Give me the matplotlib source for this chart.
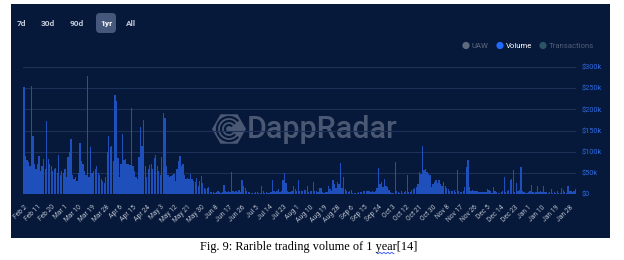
import numpy as np
import pandas as pd
import matplotlib
matplotlib.use("Agg")
import matplotlib.pyplot as plt
from matplotlib.patches import Rectangle, FancyBboxPatch, RegularPolygon, Arc, Circle

# daily Rarible trading volume, thousands of USD
start_date = "2021-02-02"
volume_k = [
    252, 90, 80, 75, 65, 255, 137, 70, 60, 72,
    90, 55, 65, 83, 60, 172, 83, 70, 65, 55,
    60, 62, 50, 92, 45, 55, 50, 60, 40, 88,
    100, 130, 45, 35, 40, 30, 50, 121, 77, 70,
    55, 45, 279, 40, 111, 50, 55, 60, 65, 50,
    45, 35, 30, 25, 40, 99, 138, 112, 113, 77,
    233, 219, 85, 40, 70, 141, 80, 82, 70, 72,
    68, 203, 65, 55, 40, 35, 88, 158, 113, 175,
    65, 40, 60, 68, 72, 60, 85, 92, 65, 55,
    45, 88, 191, 179, 65, 45, 40, 42, 45, 48,
    30, 60, 78, 89, 65, 72, 45, 35, 38, 35,
    47, 35, 30, 28, 38, 20, 30, 42, 25, 15,
    12, 15, 17, 5, 4, 4, 3, 4, 8, 4,
    3, 4, 22, 8, 4, 7, 4, 52, 6, 5,
    8, 5, 9, 5, 32, 20, 14, 8, 5, 4,
    3, 2, 2, 4, 4, 3, 3, 20, 8, 3,
    4, 3, 3, 5, 32, 8, 4, 6, 12, 5,
    8, 32, 50, 25, 8, 4, 4, 6, 20, 12,
    8, 33, 8, 8, 8, 10, 10, 18, 5, 8,
    6, 28, 8, 6, 5, 13, 13, 4, 3, 4,
    5, 18, 12, 8, 32, 24, 15, 28, 24, 74,
    14, 41, 12, 6, 5, 6, 9, 3, 3, 2,
    3, 4, 5, 4, 6, 8, 6, 8, 6, 4,
    6, 4, 8, 14, 62, 24, 28, 16, 36, 20,
    17, 10, 4, 3, 3, 75, 8, 4, 3, 6,
    3, 4, 6, 44, 4, 5, 10, 12, 14, 16,
    24, 52, 48, 113, 56, 58, 52, 48, 44, 16,
    24, 28, 32, 25, 33, 24, 20, 28, 20, 14,
    12, 8, 6, 8, 10, 4, 56, 8, 4, 5,
    6, 16, 63, 81, 16, 6, 10, 8, 6, 6,
    5, 4, 4, 4, 4, 4, 12, 10, 6, 3,
    16, 8, 4, 2, 3, 4, 6, 40, 4, 8,
    10, 33, 36, 56, 4, 25, 6, 10, 63, 8,
    4, 2, 3, 4, 6, 22, 4, 2, 5, 20,
    4, 6, 5, 20, 4, 4, 3, 5, 12, 2,
    4, 3, 6, 3, 2, 14, 10, 4, 2, 18,
    8, 6, 4, 6, 12,
]
y_ticks_k = [0, 50, 100, 150, 200, 250, 300]
ranges = ["7d", "30d", "90d", "1yr", "All"]
legend_items = ["UAW", "Volume", "Transactions"]
caption = "Fig. 9: Rarible trading volume of 1 year[14]"

BG = "#07193a"
BAR = "#1f4fbb"
GRID = "#1c3058"
W, H = 624, 260

dates = pd.date_range(start_date, periods=len(volume_k), freq="D")
days = np.arange(len(volume_k))

fig = plt.figure(figsize=(W / 100, H / 100), dpi=100, facecolor="white")

# pixel-space overlay for the dashboard chrome
bg = fig.add_axes((0, 0, 1, 1), zorder=0)
bg.set_xlim(0, W); bg.set_ylim(H, 0); bg.axis("off")
bg.add_patch(Rectangle((11, 4), 599, 234, facecolor=BG, edgecolor="none"))

# range buttons
bg.add_patch(FancyBboxPatch((96, 13), 20, 20, boxstyle="round,pad=0,rounding_size=4",
                            facecolor="#46577c", edgecolor="none"))
for label, cx in zip(ranges, [21, 48, 77, 106, 131]):
    bg.text(cx, 23.5, label, color="white" if label == "1yr" else "#c3cbd9",
            fontsize=6, fontweight="bold", ha="center", va="center", family="Roboto")

# legend
for (label, cx, dot, tc) in zip(legend_items, [466, 500, 543],
                                ["#5e6a80", "#1f6bff", "#2b5566"],
                                ["#5e6a80", "white", "#4f5d75"]):
    bg.add_patch(Circle((cx, 45.5), 3.6, facecolor=dot, edgecolor="none"))
    bg.text(cx + 6, 46, label, color=tc, fontsize=5.6, ha="left", va="center",
            family="Roboto")

# DappRadar watermark
wm = "#4a5873"
bg.add_patch(RegularPolygon((229, 129), 6, radius=17, orientation=np.pi / 2,
                            facecolor=wm, edgecolor="none", zorder=1))
for r in (4, 8, 12):
    bg.add_patch(Arc((229, 129), 2 * r, 2 * r, theta1=40, theta2=320,
                     color=BG, lw=1.6, zorder=2))
bg.text(247, 129, "DappRadar", color=wm, fontsize=22, fontweight="medium",
        ha="left", va="center", family="Roboto", zorder=1)

# caption under the screenshot
bg.text(309, 247, caption, color="black", fontsize=8.8, ha="center", va="center",
        family="Liberation Serif")
xs = np.linspace(377, 394, 18)
bg.plot(xs, 253 + 0.8 * np.sin(xs * 1.6), color="#3050ff", lw=0.6)

# the chart itself
x0, x1 = 23.2, 576.2
ax = fig.add_axes((x0 / W, (H - 194) / H, (x1 - x0) / W, 127 / H), zorder=2)
ax.set_facecolor("none")
ax.bar(days, volume_k, width=0.85, color=BAR, edgecolor="none", zorder=3)
ax.set_xlim(-0.5, len(volume_k) - 0.5)
ax.set_ylim(0, 300)
ax.set_yticks(y_ticks_k)
ax.set_yticklabels(["$0"] + [f"${v}k" for v in y_ticks_k[1:]])
ax.yaxis.tick_right()
ax.tick_params(axis="y", length=0, pad=4, labelsize=5.3, labelcolor="#2c6ae0")
ax.grid(axis="y", color=GRID, lw=0.8, zorder=0)
tick_days = days[::9]
ax.set_xticks(tick_days)
ax.set_xticklabels([f"{d:%b} {d.day}" for d in dates[tick_days]], rotation=45,
                   ha="right", rotation_mode="anchor")
ax.tick_params(axis="x", length=0, pad=7, labelsize=4.9, labelcolor="#b7bfcd")
for lbl in ax.get_xticklabels() + ax.get_yticklabels():
    lbl.set_family("Roboto")
for sp in ax.spines.values():
    sp.set_visible(False)

fig.savefig("out.png", dpi=100, facecolor="white")
